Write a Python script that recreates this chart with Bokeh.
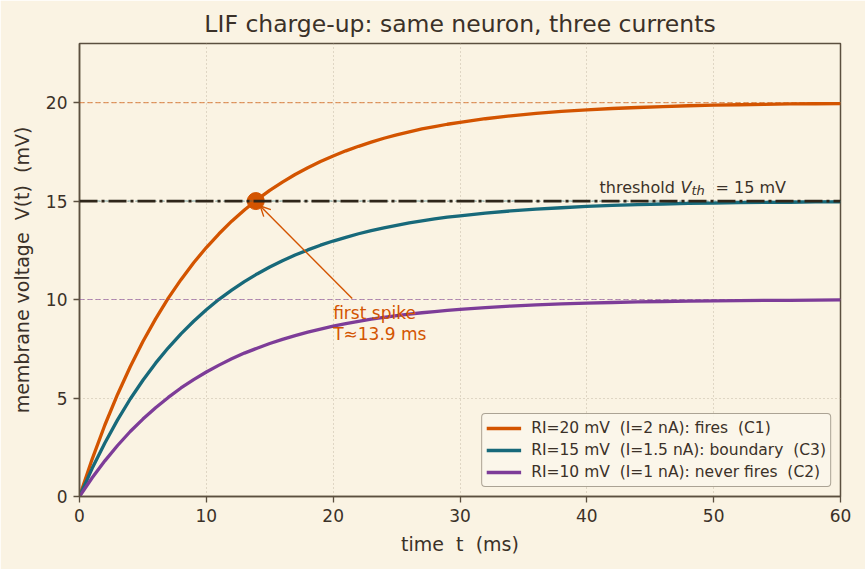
from bokeh.plotting import figure
from bokeh.models import Range1d, Label, Arrow, OpenHead, Span
from bokeh.embed import file_html
from bokeh.resources import INLINE

# membrane voltage samples (mV) for the three input currents
t_ms = list(range(0, 31)) + list(range(32, 61, 2))
v_ri20 = [0, 1.90, 3.63, 5.18, 6.59, 7.87, 9.02, 10.07, 11.01, 11.87,
          12.64, 13.34, 13.98, 14.55, 15.07, 15.54, 15.96, 16.35, 16.69, 17.01,
          17.29, 17.55, 17.78, 17.99, 18.19, 18.36, 18.51, 18.66, 18.78, 18.90,
          19.00, 19.18, 19.33, 19.45, 19.55, 19.63, 19.70, 19.75, 19.80, 19.84,
          19.87, 19.89, 19.91, 19.93, 19.94, 19.95]
v_ri15 = [0, 1.43, 2.72, 3.89, 4.95, 5.90, 6.77, 7.55, 8.26, 8.90,
          9.48, 10.01, 10.48, 10.91, 11.30, 11.65, 11.97, 12.26, 12.52, 12.76,
          12.97, 13.16, 13.34, 13.50, 13.64, 13.77, 13.89, 13.99, 14.09, 14.18,
          14.25, 14.39, 14.50, 14.59, 14.66, 14.73, 14.78, 14.82, 14.85, 14.88,
          14.90, 14.92, 14.93, 14.94, 14.96, 14.96]
v_ri10 = [0, 0.95, 1.81, 2.59, 3.30, 3.93, 4.51, 5.03, 5.51, 5.93,
          6.32, 6.67, 6.99, 7.28, 7.53, 7.77, 7.98, 8.17, 8.35, 8.50,
          8.65, 8.78, 8.89, 9.00, 9.09, 9.18, 9.26, 9.33, 9.39, 9.45,
          9.50, 9.59, 9.67, 9.73, 9.78, 9.82, 9.85, 9.88, 9.90, 9.92,
          9.93, 9.95, 9.96, 9.96, 9.97, 9.98]

series_labels = ["RI=20 mV  (I=2 nA): fires  (C1)",
                 "RI=15 mV  (I=1.5 nA): boundary  (C3)",
                 "RI=10 mV  (I=1 nA): never fires  (C2)"]
asymptotes = [20, 15, 10]
threshold_mv = 15
spike_t, spike_v = 13.9, 15

x_ticks = [0, 10, 20, 30, 40, 50, 60]
y_ticks = [0, 5, 10, 15, 20]

# styling
BG = "#FAF3E3"
INK = "#3b3128"
FRAME = "#5b4f3f"
ORANGE = "#D35400"
TEAL = "#17697A"
PURPLE = "#7D3C98"
FONT = "DejaVu Sans"
NB = "\u00a0"

p = figure(width=865, height=569, output_backend="svg", toolbar_location=None,
           x_range=Range1d(0, 60), y_range=Range1d(0, 23),
           title="LIF charge-up: same neuron, three currents",
           min_border_left=79, min_border_right=25, min_border_top=43, min_border_bottom=73)

p.background_fill_color = BG
p.border_fill_color = BG
p.outline_line_color = FRAME
p.outline_line_width = 1.5

p.title.text_font = FONT
p.title.text_font_size = "23.5px"
p.title.text_font_style = "normal"
p.title.text_color = INK
p.title.align = "center"
p.title.standoff = 11

for ax, ticks in ((p.xaxis[0], x_ticks), (p.yaxis[0], y_ticks)):
    ax.ticker = ticks
    ax.axis_line_color = FRAME
    ax.axis_line_width = 1.5
    ax.major_tick_line_color = FRAME
    ax.major_tick_line_width = 1.3
    ax.major_tick_out = 6
    ax.major_tick_in = 0
    ax.minor_tick_out = 0
    ax.minor_tick_in = 0
    ax.major_label_text_font = FONT
    ax.major_label_text_font_size = "17px"
    ax.major_label_text_color = INK
    ax.major_label_standoff = 6
    ax.axis_label_text_font = FONT
    ax.axis_label_text_font_size = "19px"
    ax.axis_label_text_font_style = "normal"
    ax.axis_label_text_color = INK

p.xaxis.axis_label = f"time {NB}t {NB}(ms)"
p.yaxis.axis_label = f"membrane voltage {NB}V(t) {NB}(mV)"
p.xaxis.axis_label_standoff = 8
p.yaxis.axis_label_standoff = 10

p.xgrid.ticker = x_ticks
p.ygrid.ticker = y_ticks
for g in (p.xgrid[0], p.ygrid[0]):
    g.grid_line_color = "#bdb29f"
    g.grid_line_width = 0.9
    g.grid_line_dash = "1 3"

# dashed asymptote guides
for level, col in zip(asymptotes, (ORANGE, TEAL, PURPLE)):
    p.add_layout(Span(location=level, dimension="width", line_color=col,
                      line_alpha=0.55, line_width=1.1, line_dash="5 3"))

# charging curves
for vals, col, lab in zip((v_ri20, v_ri15, v_ri10), (ORANGE, TEAL, PURPLE), series_labels):
    p.line(t_ms, vals, line_color=col, line_width=3.3, line_join="round", legend_label=lab)

# firing threshold
p.add_layout(Span(location=threshold_mv, dimension="width", line_color="#2e2519",
                  line_width=2.8, line_dash="18 4 3 4"))

# threshold caption with subscript
cap_x, cap_y = 41, 15.43
cap_kw = dict(x_units="data", y_units="data", text_font=FONT, text_color=INK,
              text_baseline="alphabetic")
p.add_layout(Label(x=cap_x, y=cap_y, y_offset=5, text="threshold", text_font_size="16px", **cap_kw))
p.add_layout(Label(x=cap_x, y=cap_y, y_offset=5, x_offset=81, text="V", text_font_size="16px",
                   text_font_style="italic", **cap_kw))
p.add_layout(Label(x=cap_x, y=cap_y, y_offset=2, x_offset=92, text="th", text_font_size="13px",
                   text_font_style="italic", **cap_kw))
p.add_layout(Label(x=cap_x, y=cap_y, y_offset=5, x_offset=116, text="= 15 mV",
                   text_font_size="16px", **cap_kw))

# first-spike annotation
arrow_from = (21.5, 10.05)
arrow_tip = (14.25, 14.75)
p.add_layout(Arrow(end=OpenHead(size=10, line_color=ORANGE, line_width=1.4),
                   x_start=arrow_from[0], y_start=arrow_from[1],
                   x_end=arrow_tip[0], y_end=arrow_tip[1],
                   line_color=ORANGE, line_width=1.4))
p.scatter([spike_t], [spike_v], size=17, fill_color=ORANGE, line_color=ORANGE)

note_x, note_y = 20, 8
note_kw = dict(x_units="data", y_units="data", text_font=FONT, text_color=ORANGE,
               text_font_size="17px", text_baseline="alphabetic")
p.add_layout(Label(x=note_x, y=note_y, y_offset=26, text="first spike", **note_kw))
p.add_layout(Label(x=note_x, y=note_y, y_offset=5, text="T\u224813.9 ms", **note_kw))

# legend
lg = p.legend[0]
lg.location = "bottom_right"
lg.margin = 9
lg.padding = 4
lg.spacing = 2
lg.glyph_width = 35
lg.glyph_height = 20
lg.label_height = 20
lg.label_standoff = 10
lg.label_text_font = FONT
lg.label_text_font_size = "15.5px"
lg.label_text_color = INK
lg.border_line_color = FRAME
lg.border_line_width = 1.5
lg.border_radius = 4
lg.background_fill_color = "#FBF6EA"
lg.background_fill_alpha = 0.9

open("out.html", "w").write(file_html(p, INLINE))
